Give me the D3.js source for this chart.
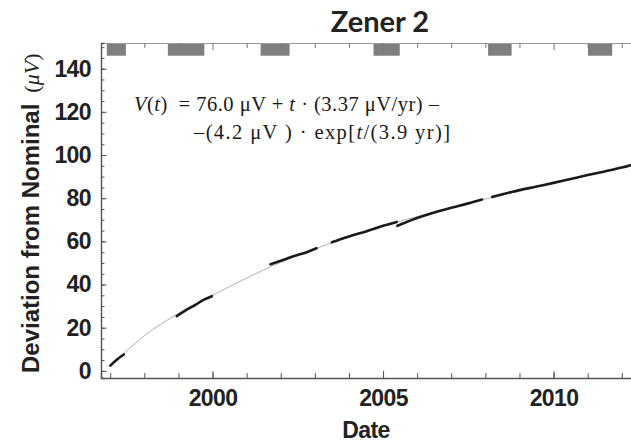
<!DOCTYPE html>
<html>
<head>
<meta charset="utf-8">
<script src="https://cdn.jsdelivr.net/npm/d3@7"></script>
<style>
  body { margin: 0; background: #fff; }
  .tick text { font-family: "Liberation Sans", Arial, sans-serif; font-weight: bold; fill: #222; }
</style>
</head>
<body>
<div class="chart"></div>
<script>
    var svgWidth = 631;
    var svgHeight = 443;

    // fitted curve (year, µV)
    var fitYears  = [1997.0, 1997.5, 1998.0, 1998.5, 1999.0, 1999.5, 2000.0, 2001.0, 2002.0, 2003.0, 2004.0, 2005.0, 2006.0, 2007.0, 2008.0, 2009.0, 2010.0, 2011.0, 2012.0, 2012.35];
    var fitValues = [2.5, 9.5, 16.3, 21.8, 26.6, 31.0, 35.0, 43.0, 50.3, 56.5, 62.0, 67.0, 71.5, 75.6, 79.6, 83.4, 87.0, 90.6, 94.2, 95.6];

    // measured runs (dark, thick)
    var runs = [
        [[1997.0, 2.4], [1997.2, 5.3], [1997.4, 7.6]],
        [[1998.95, 25.4], [1999.2, 27.9], [1999.5, 30.6], [1999.75, 33.0], [1999.98, 34.6]],
        [[2001.7, 49.4], [2002.0, 51.0], [2002.4, 53.2], [2002.8, 55.2], [2003.05, 56.8]],
        [[2003.5, 59.6], [2004.0, 62.3], [2004.5, 64.6], [2005.0, 67.2], [2005.4, 69.0]],
        [[2005.42, 67.2], [2006.0, 70.8], [2006.5, 73.4], [2007.0, 75.6], [2007.5, 77.6], [2007.9, 79.4]],
        [[2008.2, 80.6], [2008.8, 83.0], [2009.5, 85.4], [2010.0, 87.1], [2010.5, 88.9], [2011.0, 90.7], [2011.5, 92.4], [2012.0, 94.2], [2012.35, 95.7]]
    ];

    // gray bands along the top frame (start year, end year)
    var bandStart = [1996.9, 1998.69, 2001.41, 2004.72, 2008.08, 2011.01];
    var bandEnd   = [1997.46, 1999.76, 2002.26, 2005.49, 2008.77, 2011.72];

    var yearTicks = [2000, 2005, 2010];
    var valueTicks = [0, 20, 40, 60, 80, 100, 120, 140];

    var margin = { top: 43, right: -1, bottom: 65, left: 101 };
    var width = svgWidth - margin.left - margin.right;
    var height = svgHeight - margin.top - margin.bottom;

    var svg = d3.select(".chart")
        .append("svg")
        .attr("width", svgWidth)
        .attr("height", svgHeight);

    var chartGroup = svg.append("g")
        .attr("transform", `translate(${margin.left}, ${margin.top})`);

    var x = d3.scaleLinear().domain([1996.73, 2012.3]).range([0, width]);
    var y = d3.scaleLinear().domain([-3.3, 151.9]).range([height, 0]);

    var minorYears = d3.range(1997, 2013);
    var minorValues = d3.range(0, 151, 5);

    // gray bands
    chartGroup.selectAll(".band")
        .data(bandStart)
        .enter()
        .append("rect")
        .attr("x", (d, i) => x(d))
        .attr("y", 1)
        .attr("width", (d, i) => x(bandEnd[i]) - x(d))
        .attr("height", y(146) - 1)
        .attr("fill", "#7f7f7f");

    // top frame with inward ticks
    var topAxis = chartGroup.append("g")
        .call(d3.axisTop(x).tickValues(minorYears).tickSize(0).tickFormat(""));
    topAxis.select(".domain").attr("stroke", "#999").attr("stroke-width", 1.2);
    topAxis.selectAll(".tick line").attr("stroke", "#777")
        .attr("y1", 0)
        .attr("y2", d => yearTicks.includes(d) ? 7 : 5);

    // bottom axis: minor ticks, then labelled major ones
    var bottomAxis = chartGroup.append("g")
        .attr("transform", `translate(0, ${height})`)
        .call(d3.axisBottom(x).tickValues(minorYears).tickSize(-5).tickFormat(""));
    bottomAxis.select(".domain").attr("stroke", "#555").attr("stroke-width", 1.4);
    bottomAxis.selectAll(".tick line").attr("stroke", "#555");

    var bottomMajor = chartGroup.append("g")
        .attr("transform", `translate(0, ${height})`)
        .call(d3.axisBottom(x).tickValues(yearTicks).tickSize(-7).tickPadding(12).tickFormat(d3.format("d")));
    bottomMajor.select(".domain").remove();
    bottomMajor.selectAll(".tick line").attr("stroke", "#555");
    bottomMajor.selectAll(".tick text")
        .attr("font-size", 23)
        .attr("letter-spacing", -0.6)
        .attr("dy", "0.71em");

    // left axis
    var leftAxis = chartGroup.append("g")
        .call(d3.axisLeft(y).tickValues(minorValues).tickSize(-3.5).tickFormat(""));
    leftAxis.select(".domain").attr("stroke", "#555").attr("stroke-width", 1.4);
    leftAxis.selectAll(".tick line").attr("stroke", "#555");

    var leftMajor = chartGroup.append("g")
        .call(d3.axisLeft(y).tickValues(valueTicks).tickSize(-5.5).tickPadding(10));
    leftMajor.select(".domain").remove();
    leftMajor.selectAll(".tick line").attr("stroke", "#555");
    leftMajor.selectAll(".tick text")
        .attr("font-size", 23)
        .attr("letter-spacing", -0.6);

    // fitted curve
    var line = d3.line()
        .x(d => x(d[0]))
        .y(d => y(d[1]))
        .curve(d3.curveMonotoneX);

    chartGroup.append("path")
        .datum(fitYears.map((d, i) => [d, fitValues[i]]))
        .attr("d", line)
        .attr("fill", "none")
        .attr("stroke", "#b0b0b0")
        .attr("stroke-width", 1);

    // measurement runs
    chartGroup.selectAll(".run")
        .data(runs)
        .enter()
        .append("path")
        .attr("d", line)
        .attr("fill", "none")
        .attr("stroke", "#1a1a1a")
        .attr("stroke-width", 2.6)
        .attr("stroke-linecap", "round");

    // formula
    var serif = '"Liberation Serif", "Times New Roman", serif';
    var f1 = svg.append("text")
        .attr("x", 134).attr("y", 111)
        .attr("textLength", 305).attr("lengthAdjust", "spacing")
        .attr("font-family", serif).attr("font-size", 20.5).attr("fill", "#1a1a1a");
    f1.append("tspan").attr("font-style", "italic").text("V");
    f1.append("tspan").text("(");
    f1.append("tspan").attr("font-style", "italic").text("t");
    f1.append("tspan").text(")\u2002= 76.0 \u03bcV + ");
    f1.append("tspan").attr("font-style", "italic").text("t");
    f1.append("tspan").text(" \u00b7 (3.37 \u03bcV/yr) \u2013");

    var f2 = svg.append("text")
        .attr("x", 194).attr("y", 139)
        .attr("textLength", 256).attr("lengthAdjust", "spacing")
        .attr("font-family", serif).attr("font-size", 20.5).attr("fill", "#1a1a1a");
    f2.append("tspan").text("\u2013(4.2 \u03bcV ) \u00b7 exp[");
    f2.append("tspan").attr("font-style", "italic").text("t");
    f2.append("tspan").text("/(3.9 yr)]");

    // title
    svg.append("text")
        .attr("x", 380).attr("y", 32)
        .attr("text-anchor", "middle")
        .attr("font-family", "Lato, 'Open Sans', sans-serif")
        .attr("font-weight", "bold")
        .attr("font-size", 29)
        .attr("fill", "#222")
        .text("Zener 2");

    // x label
    svg.append("text")
        .attr("x", 366).attr("y", 438)
        .attr("text-anchor", "middle")
        .attr("font-family", "'Liberation Sans', Arial, sans-serif")
        .attr("font-weight", "bold")
        .attr("font-size", 23)
        .attr("letter-spacing", -0.6)
        .attr("fill", "#222")
        .text("Date");

    // y label
    var yl = svg.append("text")
        .attr("transform", "translate(39, 373) rotate(-90)")
        .attr("font-family", "'Liberation Sans', Arial, sans-serif")
        .attr("font-weight", "bold")
        .attr("font-size", 24)
        .attr("fill", "#222");
    yl.append("tspan").text("Deviation from Nominal");
    yl.append("tspan").attr("font-family", serif).attr("font-weight", "normal")
        .attr("font-size", 22).text("\u2002(");
    yl.append("tspan").attr("font-family", serif).attr("font-weight", "normal")
        .attr("font-style", "italic").attr("font-size", 22).text("\u03bcV");
    yl.append("tspan").attr("font-family", serif).attr("font-weight", "normal")
        .attr("font-size", 22).text(")");
</script>
</body>
</html>
